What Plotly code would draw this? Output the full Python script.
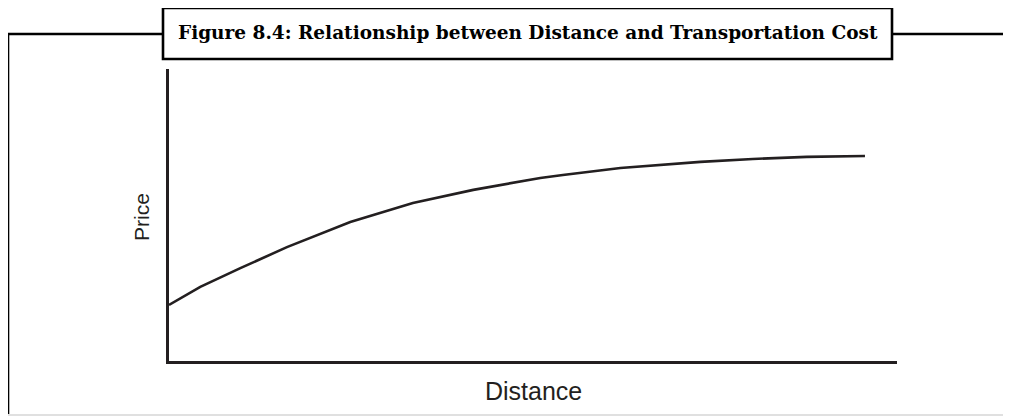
import plotly.graph_objects as go

# curve (distance vs price, arbitrary units)
distance = [0, 4.3, 9.8, 16.2, 24.9, 33.5, 41.8, 51.0, 54.1, 62.0, 73.0, 80.2, 87.6, 95.6]
price = [19.2, 25.4, 31.8, 39.0, 47.6, 54.1, 58.6, 62.7, 63.7, 66.1, 68.2, 69.2, 69.9, 70.2]

title_text = "Figure 8.4: Relationship between Distance and Transportation Cost"
x_label = "Distance"
y_label = "Price"

W, H = 1011, 416
L, R, T, B = 169, 897, 69, 361
OFF = 8  # page body margin of the html page
ink = "#231f20"


# pixel (page) -> paper coords helpers for the decoration
def px(x):
    return (x - L) / (R - L)


def py(y):
    return (B - y) / (B - T)


fig = go.Figure()
fig.add_trace(go.Scatter(x=distance, y=price, mode='lines',
                         line=dict(color=ink, width=2.6), hoverinfo='skip'))

shapes = [
    # outer frame (top line + left side)
    dict(type='line', xref='paper', yref='paper', x0=px(8), y0=py(34), x1=px(1011), y1=py(34),
         line=dict(color='black', width=2.6)),
    dict(type='line', xref='paper', yref='paper', x0=px(8), y0=py(34), x1=px(8), y1=py(414),
         line=dict(color='black', width=2.6)),
    # light page edge at bottom
    dict(type='line', xref='paper', yref='paper', x0=px(8), y0=py(415), x1=px(1011), y1=py(415),
         line=dict(color='#d6d6d6', width=1.5)),
    # title box
    dict(type='rect', xref='paper', yref='paper', x0=px(163), y0=py(59), x1=px(892), y1=py(8),
         fillcolor='white', line=dict(color='black', width=2.6)),
]

annotations = [
    dict(text="<b>" + title_text + "</b>", xref='paper', yref='paper', x=px(527.5), y=py(33),
         xanchor='center', yanchor='middle', showarrow=False,
         font=dict(family="DejaVu Serif", size=18.5, color='black')),
    dict(text=x_label, xref='paper', yref='paper', x=px(533), y=py(391),
         xanchor='center', yanchor='middle', showarrow=False,
         font=dict(family="Liberation Sans", size=25, color=ink)),
    dict(text=y_label, xref='paper', yref='paper', x=px(141), y=py(217), textangle=-90,
         xanchor='center', yanchor='middle', showarrow=False,
         font=dict(family="Liberation Sans", size=21, color=ink)),
]

fig.update_layout(
    width=W - OFF, height=H - OFF,
    margin=dict(l=L - OFF, r=W - R, t=T - OFF, b=H - B),
    paper_bgcolor='white', plot_bgcolor='white',
    showlegend=False,
    shapes=shapes,
    annotations=annotations,
    xaxis=dict(range=[0, 100], showline=True, linecolor=ink, linewidth=3,
               showgrid=False, zeroline=False, showticklabels=False, ticks=''),
    yaxis=dict(range=[0, 100], showline=True, linecolor=ink, linewidth=3,
               showgrid=False, zeroline=False, showticklabels=False, ticks=''),
)

fig.write_html("out.html")
